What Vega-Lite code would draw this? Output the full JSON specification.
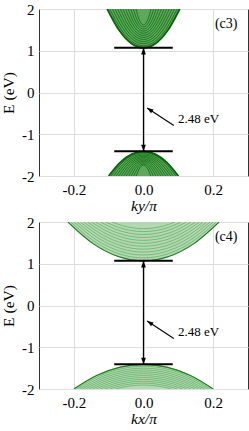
{
"$schema":"https://vega.github.io/schema/vega-lite/v6.json",
"padding":{"left":1,"top":1,"right":2,"bottom":0},
"spacing":0,
"config":{"view":{"stroke":"#333","strokeWidth":1},
"axis":{"labelFont":"Liberation Serif","labelFontSize":15,"labelColor":"#000","titleFont":"Liberation Serif","titleFontSize":15.5,"titleFontWeight":"normal","titleColor":"#000","gridColor":"#dedede","gridWidth":1,"domain":false,"ticks":false,"labelPadding":5},
"axisX":{"labelPadding":6,"titlePadding":1,"titleFontStyle":"italic"},
"axisY":{"titlePadding":5},
"text":{"font":"Liberation Serif"}},
"datasets":{
"bands":[
{"p":"c3","c":"c0","k":-0.104,"E":2},{"p":"c3","c":"c0","k":-0.0693,"E":1.483},{"p":"c3","c":"c0","k":-0.0347,"E":1.173},{"p":"c3","c":"c0","k":0,"E":1.07},{"p":"c3","c":"c0","k":0.0347,"E":1.173},{"p":"c3","c":"c0","k":0.0693,"E":1.483},{"p":"c3","c":"c0","k":0.104,"E":2},
{"p":"c3","c":"c1","k":-0.0965,"E":2},{"p":"c3","c":"c1","k":-0.0643,"E":1.511},{"p":"c3","c":"c1","k":-0.0322,"E":1.218},{"p":"c3","c":"c1","k":0,"E":1.12},{"p":"c3","c":"c1","k":0.0322,"E":1.218},{"p":"c3","c":"c1","k":0.0643,"E":1.511},{"p":"c3","c":"c1","k":0.0965,"E":2},
{"p":"c3","c":"c2","k":-0.089,"E":2},{"p":"c3","c":"c2","k":-0.0593,"E":1.539},{"p":"c3","c":"c2","k":-0.0297,"E":1.262},{"p":"c3","c":"c2","k":0,"E":1.17},{"p":"c3","c":"c2","k":0.0297,"E":1.262},{"p":"c3","c":"c2","k":0.0593,"E":1.539},{"p":"c3","c":"c2","k":0.089,"E":2},
{"p":"c3","c":"c3","k":-0.0815,"E":2},{"p":"c3","c":"c3","k":-0.0543,"E":1.567},{"p":"c3","c":"c3","k":-0.0272,"E":1.307},{"p":"c3","c":"c3","k":0,"E":1.22},{"p":"c3","c":"c3","k":0.0272,"E":1.307},{"p":"c3","c":"c3","k":0.0543,"E":1.567},{"p":"c3","c":"c3","k":0.0815,"E":2},
{"p":"c3","c":"c4","k":-0.074,"E":2},{"p":"c3","c":"c4","k":-0.0493,"E":1.594},{"p":"c3","c":"c4","k":-0.0247,"E":1.351},{"p":"c3","c":"c4","k":0,"E":1.27},{"p":"c3","c":"c4","k":0.0247,"E":1.351},{"p":"c3","c":"c4","k":0.0493,"E":1.594},{"p":"c3","c":"c4","k":0.074,"E":2},
{"p":"c3","c":"c5","k":-0.0665,"E":2},{"p":"c3","c":"c5","k":-0.0443,"E":1.622},{"p":"c3","c":"c5","k":-0.0222,"E":1.396},{"p":"c3","c":"c5","k":0,"E":1.32},{"p":"c3","c":"c5","k":0.0222,"E":1.396},{"p":"c3","c":"c5","k":0.0443,"E":1.622},{"p":"c3","c":"c5","k":0.0665,"E":2},
{"p":"c3","c":"c6","k":-0.059,"E":2},{"p":"c3","c":"c6","k":-0.0393,"E":1.65},{"p":"c3","c":"c6","k":-0.0197,"E":1.44},{"p":"c3","c":"c6","k":0,"E":1.37},{"p":"c3","c":"c6","k":0.0197,"E":1.44},{"p":"c3","c":"c6","k":0.0393,"E":1.65},{"p":"c3","c":"c6","k":0.059,"E":2},
{"p":"c3","c":"c7","k":-0.0515,"E":2},{"p":"c3","c":"c7","k":-0.0343,"E":1.678},{"p":"c3","c":"c7","k":-0.0172,"E":1.484},{"p":"c3","c":"c7","k":0,"E":1.42},{"p":"c3","c":"c7","k":0.0172,"E":1.484},{"p":"c3","c":"c7","k":0.0343,"E":1.678},{"p":"c3","c":"c7","k":0.0515,"E":2},
{"p":"c3","c":"c8","k":-0.044,"E":2},{"p":"c3","c":"c8","k":-0.0293,"E":1.706},{"p":"c3","c":"c8","k":-0.0147,"E":1.529},{"p":"c3","c":"c8","k":0,"E":1.47},{"p":"c3","c":"c8","k":0.0147,"E":1.529},{"p":"c3","c":"c8","k":0.0293,"E":1.706},{"p":"c3","c":"c8","k":0.044,"E":2},
{"p":"c3","c":"c9","k":-0.0365,"E":2},{"p":"c3","c":"c9","k":-0.0243,"E":1.733},{"p":"c3","c":"c9","k":-0.0122,"E":1.573},{"p":"c3","c":"c9","k":0,"E":1.52},{"p":"c3","c":"c9","k":0.0122,"E":1.573},{"p":"c3","c":"c9","k":0.0243,"E":1.733},{"p":"c3","c":"c9","k":0.0365,"E":2},
{"p":"c3","c":"c10","k":-0.029,"E":2},{"p":"c3","c":"c10","k":-0.0193,"E":1.761},{"p":"c3","c":"c10","k":-0.0097,"E":1.618},{"p":"c3","c":"c10","k":0,"E":1.57},{"p":"c3","c":"c10","k":0.0097,"E":1.618},{"p":"c3","c":"c10","k":0.0193,"E":1.761},{"p":"c3","c":"c10","k":0.029,"E":2},
{"p":"c3","c":"c11","k":-0.0215,"E":2},{"p":"c3","c":"c11","k":-0.0143,"E":1.789},{"p":"c3","c":"c11","k":-0.0072,"E":1.662},{"p":"c3","c":"c11","k":0,"E":1.62},{"p":"c3","c":"c11","k":0.0072,"E":1.662},{"p":"c3","c":"c11","k":0.0143,"E":1.789},{"p":"c3","c":"c11","k":0.0215,"E":2},
{"p":"c3","c":"v0","k":-0.1,"E":-2},{"p":"c3","c":"v0","k":-0.0667,"E":-1.672},{"p":"c3","c":"v0","k":-0.0333,"E":-1.476},{"p":"c3","c":"v0","k":0,"E":-1.41},{"p":"c3","c":"v0","k":0.0333,"E":-1.476},{"p":"c3","c":"v0","k":0.0667,"E":-1.672},{"p":"c3","c":"v0","k":0.1,"E":-2},
{"p":"c3","c":"v1","k":-0.0928,"E":-2},{"p":"c3","c":"v1","k":-0.0619,"E":-1.689},{"p":"c3","c":"v1","k":-0.0309,"E":-1.502},{"p":"c3","c":"v1","k":0,"E":-1.44},{"p":"c3","c":"v1","k":0.0309,"E":-1.502},{"p":"c3","c":"v1","k":0.0619,"E":-1.689},{"p":"c3","c":"v1","k":0.0928,"E":-2},
{"p":"c3","c":"v2","k":-0.0856,"E":-2},{"p":"c3","c":"v2","k":-0.0571,"E":-1.706},{"p":"c3","c":"v2","k":-0.0285,"E":-1.529},{"p":"c3","c":"v2","k":0,"E":-1.47},{"p":"c3","c":"v2","k":0.0285,"E":-1.529},{"p":"c3","c":"v2","k":0.0571,"E":-1.706},{"p":"c3","c":"v2","k":0.0856,"E":-2},
{"p":"c3","c":"v3","k":-0.0784,"E":-2},{"p":"c3","c":"v3","k":-0.0523,"E":-1.722},{"p":"c3","c":"v3","k":-0.0261,"E":-1.556},{"p":"c3","c":"v3","k":0,"E":-1.5},{"p":"c3","c":"v3","k":0.0261,"E":-1.556},{"p":"c3","c":"v3","k":0.0523,"E":-1.722},{"p":"c3","c":"v3","k":0.0784,"E":-2},
{"p":"c3","c":"v4","k":-0.0712,"E":-2},{"p":"c3","c":"v4","k":-0.0475,"E":-1.739},{"p":"c3","c":"v4","k":-0.0237,"E":-1.582},{"p":"c3","c":"v4","k":0,"E":-1.53},{"p":"c3","c":"v4","k":0.0237,"E":-1.582},{"p":"c3","c":"v4","k":0.0475,"E":-1.739},{"p":"c3","c":"v4","k":0.0712,"E":-2},
{"p":"c3","c":"v5","k":-0.064,"E":-2},{"p":"c3","c":"v5","k":-0.0427,"E":-1.756},{"p":"c3","c":"v5","k":-0.0213,"E":-1.609},{"p":"c3","c":"v5","k":0,"E":-1.56},{"p":"c3","c":"v5","k":0.0213,"E":-1.609},{"p":"c3","c":"v5","k":0.0427,"E":-1.756},{"p":"c3","c":"v5","k":0.064,"E":-2},
{"p":"c3","c":"v6","k":-0.0568,"E":-2},{"p":"c3","c":"v6","k":-0.0379,"E":-1.772},{"p":"c3","c":"v6","k":-0.0189,"E":-1.636},{"p":"c3","c":"v6","k":0,"E":-1.59},{"p":"c3","c":"v6","k":0.0189,"E":-1.636},{"p":"c3","c":"v6","k":0.0379,"E":-1.772},{"p":"c3","c":"v6","k":0.0568,"E":-2},
{"p":"c3","c":"v7","k":-0.0496,"E":-2},{"p":"c3","c":"v7","k":-0.0331,"E":-1.789},{"p":"c3","c":"v7","k":-0.0165,"E":-1.662},{"p":"c3","c":"v7","k":0,"E":-1.62},{"p":"c3","c":"v7","k":0.0165,"E":-1.662},{"p":"c3","c":"v7","k":0.0331,"E":-1.789},{"p":"c3","c":"v7","k":0.0496,"E":-2},
{"p":"c3","c":"v8","k":-0.0424,"E":-2},{"p":"c3","c":"v8","k":-0.0283,"E":-1.806},{"p":"c3","c":"v8","k":-0.0141,"E":-1.689},{"p":"c3","c":"v8","k":0,"E":-1.65},{"p":"c3","c":"v8","k":0.0141,"E":-1.689},{"p":"c3","c":"v8","k":0.0283,"E":-1.806},{"p":"c3","c":"v8","k":0.0424,"E":-2},
{"p":"c3","c":"v9","k":-0.0352,"E":-2},{"p":"c3","c":"v9","k":-0.0235,"E":-1.822},{"p":"c3","c":"v9","k":-0.0117,"E":-1.716},{"p":"c3","c":"v9","k":0,"E":-1.68},{"p":"c3","c":"v9","k":0.0117,"E":-1.716},{"p":"c3","c":"v9","k":0.0235,"E":-1.822},{"p":"c3","c":"v9","k":0.0352,"E":-2},
{"p":"c3","c":"v10","k":-0.028,"E":-2},{"p":"c3","c":"v10","k":-0.0187,"E":-1.839},{"p":"c3","c":"v10","k":-0.0093,"E":-1.742},{"p":"c3","c":"v10","k":0,"E":-1.71},{"p":"c3","c":"v10","k":0.0093,"E":-1.742},{"p":"c3","c":"v10","k":0.0187,"E":-1.839},{"p":"c3","c":"v10","k":0.028,"E":-2},
{"p":"c3","c":"v11","k":-0.0208,"E":-2},{"p":"c3","c":"v11","k":-0.0139,"E":-1.856},{"p":"c3","c":"v11","k":-0.0069,"E":-1.769},{"p":"c3","c":"v11","k":0,"E":-1.74},{"p":"c3","c":"v11","k":0.0069,"E":-1.769},{"p":"c3","c":"v11","k":0.0139,"E":-1.856},{"p":"c3","c":"v11","k":0.0208,"E":-2},
{"p":"c4","c":"c0","k":-0.217,"E":2},{"p":"c4","c":"c0","k":-0.1447,"E":1.483},{"p":"c4","c":"c0","k":-0.0723,"E":1.173},{"p":"c4","c":"c0","k":0,"E":1.07},{"p":"c4","c":"c0","k":0.0723,"E":1.173},{"p":"c4","c":"c0","k":0.1447,"E":1.483},{"p":"c4","c":"c0","k":0.217,"E":2},
{"p":"c4","c":"c1","k":-0.2087,"E":2},{"p":"c4","c":"c1","k":-0.1391,"E":1.522},{"p":"c4","c":"c1","k":-0.0696,"E":1.236},{"p":"c4","c":"c1","k":0,"E":1.14},{"p":"c4","c":"c1","k":0.0696,"E":1.236},{"p":"c4","c":"c1","k":0.1391,"E":1.522},{"p":"c4","c":"c1","k":0.2087,"E":2},
{"p":"c4","c":"c2","k":-0.2,"E":2},{"p":"c4","c":"c2","k":-0.1333,"E":1.561},{"p":"c4","c":"c2","k":-0.0667,"E":1.298},{"p":"c4","c":"c2","k":0,"E":1.21},{"p":"c4","c":"c2","k":0.0667,"E":1.298},{"p":"c4","c":"c2","k":0.1333,"E":1.561},{"p":"c4","c":"c2","k":0.2,"E":2},
{"p":"c4","c":"c3","k":-0.1909,"E":2},{"p":"c4","c":"c3","k":-0.1273,"E":1.6},{"p":"c4","c":"c3","k":-0.0636,"E":1.36},{"p":"c4","c":"c3","k":0,"E":1.28},{"p":"c4","c":"c3","k":0.0636,"E":1.36},{"p":"c4","c":"c3","k":0.1273,"E":1.6},{"p":"c4","c":"c3","k":0.1909,"E":2},
{"p":"c4","c":"c4","k":-0.1814,"E":2},{"p":"c4","c":"c4","k":-0.1209,"E":1.639},{"p":"c4","c":"c4","k":-0.0605,"E":1.422},{"p":"c4","c":"c4","k":0,"E":1.35},{"p":"c4","c":"c4","k":0.0605,"E":1.422},{"p":"c4","c":"c4","k":0.1209,"E":1.639},{"p":"c4","c":"c4","k":0.1814,"E":2},
{"p":"c4","c":"c5","k":-0.1714,"E":2},{"p":"c4","c":"c5","k":-0.1143,"E":1.678},{"p":"c4","c":"c5","k":-0.0571,"E":1.484},{"p":"c4","c":"c5","k":0,"E":1.42},{"p":"c4","c":"c5","k":0.0571,"E":1.484},{"p":"c4","c":"c5","k":0.1143,"E":1.678},{"p":"c4","c":"c5","k":0.1714,"E":2},
{"p":"c4","c":"c6","k":-0.1607,"E":2},{"p":"c4","c":"c6","k":-0.1071,"E":1.717},{"p":"c4","c":"c6","k":-0.0536,"E":1.547},{"p":"c4","c":"c6","k":0,"E":1.49},{"p":"c4","c":"c6","k":0.0536,"E":1.547},{"p":"c4","c":"c6","k":0.1071,"E":1.717},{"p":"c4","c":"c6","k":0.1607,"E":2},
{"p":"c4","c":"c7","k":-0.1493,"E":2},{"p":"c4","c":"c7","k":-0.0995,"E":1.756},{"p":"c4","c":"c7","k":-0.0498,"E":1.609},{"p":"c4","c":"c7","k":0,"E":1.56},{"p":"c4","c":"c7","k":0.0498,"E":1.609},{"p":"c4","c":"c7","k":0.0995,"E":1.756},{"p":"c4","c":"c7","k":0.1493,"E":2},
{"p":"c4","c":"c8","k":-0.1369,"E":2},{"p":"c4","c":"c8","k":-0.0913,"E":1.794},{"p":"c4","c":"c8","k":-0.0456,"E":1.671},{"p":"c4","c":"c8","k":0,"E":1.63},{"p":"c4","c":"c8","k":0.0456,"E":1.671},{"p":"c4","c":"c8","k":0.0913,"E":1.794},{"p":"c4","c":"c8","k":0.1369,"E":2},
{"p":"c4","c":"c9","k":-0.1232,"E":2},{"p":"c4","c":"c9","k":-0.0821,"E":1.833},{"p":"c4","c":"c9","k":-0.0411,"E":1.733},{"p":"c4","c":"c9","k":0,"E":1.7},{"p":"c4","c":"c9","k":0.0411,"E":1.733},{"p":"c4","c":"c9","k":0.0821,"E":1.833},{"p":"c4","c":"c9","k":0.1232,"E":2},
{"p":"c4","c":"c10","k":-0.1079,"E":2},{"p":"c4","c":"c10","k":-0.0719,"E":1.872},{"p":"c4","c":"c10","k":-0.036,"E":1.796},{"p":"c4","c":"c10","k":0,"E":1.77},{"p":"c4","c":"c10","k":0.036,"E":1.796},{"p":"c4","c":"c10","k":0.0719,"E":1.872},{"p":"c4","c":"c10","k":0.1079,"E":2},
{"p":"c4","c":"c11","k":-0.09,"E":2},{"p":"c4","c":"c11","k":-0.06,"E":1.911},{"p":"c4","c":"c11","k":-0.03,"E":1.858},{"p":"c4","c":"c11","k":0,"E":1.84},{"p":"c4","c":"c11","k":0.03,"E":1.858},{"p":"c4","c":"c11","k":0.06,"E":1.911},{"p":"c4","c":"c11","k":0.09,"E":2},
{"p":"c4","c":"v0","k":-0.2,"E":-2},{"p":"c4","c":"v0","k":-0.1333,"E":-1.672},{"p":"c4","c":"v0","k":-0.0667,"E":-1.476},{"p":"c4","c":"v0","k":0,"E":-1.41},{"p":"c4","c":"v0","k":0.0667,"E":-1.476},{"p":"c4","c":"v0","k":0.1333,"E":-1.672},{"p":"c4","c":"v0","k":0.2,"E":-2},
{"p":"c4","c":"v1","k":-0.1922,"E":-2},{"p":"c4","c":"v1","k":-0.1281,"E":-1.697},{"p":"c4","c":"v1","k":-0.0641,"E":-1.516},{"p":"c4","c":"v1","k":0,"E":-1.455},{"p":"c4","c":"v1","k":0.0641,"E":-1.516},{"p":"c4","c":"v1","k":0.1281,"E":-1.697},{"p":"c4","c":"v1","k":0.1922,"E":-2},
{"p":"c4","c":"v2","k":-0.1841,"E":-2},{"p":"c4","c":"v2","k":-0.1227,"E":-1.722},{"p":"c4","c":"v2","k":-0.0614,"E":-1.556},{"p":"c4","c":"v2","k":0,"E":-1.5},{"p":"c4","c":"v2","k":0.0614,"E":-1.556},{"p":"c4","c":"v2","k":0.1227,"E":-1.722},{"p":"c4","c":"v2","k":0.1841,"E":-2},
{"p":"c4","c":"v3","k":-0.1756,"E":-2},{"p":"c4","c":"v3","k":-0.1171,"E":-1.747},{"p":"c4","c":"v3","k":-0.0585,"E":-1.596},{"p":"c4","c":"v3","k":0,"E":-1.545},{"p":"c4","c":"v3","k":0.0585,"E":-1.596},{"p":"c4","c":"v3","k":0.1171,"E":-1.747},{"p":"c4","c":"v3","k":0.1756,"E":-2},
{"p":"c4","c":"v4","k":-0.1667,"E":-2},{"p":"c4","c":"v4","k":-0.1111,"E":-1.772},{"p":"c4","c":"v4","k":-0.0556,"E":-1.636},{"p":"c4","c":"v4","k":0,"E":-1.59},{"p":"c4","c":"v4","k":0.0556,"E":-1.636},{"p":"c4","c":"v4","k":0.1111,"E":-1.772},{"p":"c4","c":"v4","k":0.1667,"E":-2},
{"p":"c4","c":"v5","k":-0.1573,"E":-2},{"p":"c4","c":"v5","k":-0.1049,"E":-1.797},{"p":"c4","c":"v5","k":-0.0524,"E":-1.676},{"p":"c4","c":"v5","k":0,"E":-1.635},{"p":"c4","c":"v5","k":0.0524,"E":-1.676},{"p":"c4","c":"v5","k":0.1049,"E":-1.797},{"p":"c4","c":"v5","k":0.1573,"E":-2},
{"p":"c4","c":"v6","k":-0.1473,"E":-2},{"p":"c4","c":"v6","k":-0.0982,"E":-1.822},{"p":"c4","c":"v6","k":-0.0491,"E":-1.716},{"p":"c4","c":"v6","k":0,"E":-1.68},{"p":"c4","c":"v6","k":0.0491,"E":-1.716},{"p":"c4","c":"v6","k":0.0982,"E":-1.822},{"p":"c4","c":"v6","k":0.1473,"E":-2},
{"p":"c4","c":"v7","k":-0.1365,"E":-2},{"p":"c4","c":"v7","k":-0.091,"E":-1.847},{"p":"c4","c":"v7","k":-0.0455,"E":-1.756},{"p":"c4","c":"v7","k":0,"E":-1.725},{"p":"c4","c":"v7","k":0.0455,"E":-1.756},{"p":"c4","c":"v7","k":0.091,"E":-1.847},{"p":"c4","c":"v7","k":0.1365,"E":-2},
{"p":"c4","c":"v8","k":-0.1249,"E":-2},{"p":"c4","c":"v8","k":-0.0833,"E":-1.872},{"p":"c4","c":"v8","k":-0.0416,"E":-1.796},{"p":"c4","c":"v8","k":0,"E":-1.77},{"p":"c4","c":"v8","k":0.0416,"E":-1.796},{"p":"c4","c":"v8","k":0.0833,"E":-1.872},{"p":"c4","c":"v8","k":0.1249,"E":-2},
{"p":"c4","c":"v9","k":-0.112,"E":-2},{"p":"c4","c":"v9","k":-0.0747,"E":-1.897},{"p":"c4","c":"v9","k":-0.0373,"E":-1.836},{"p":"c4","c":"v9","k":0,"E":-1.815},{"p":"c4","c":"v9","k":0.0373,"E":-1.836},{"p":"c4","c":"v9","k":0.0747,"E":-1.897},{"p":"c4","c":"v9","k":0.112,"E":-2},
{"p":"c4","c":"v10","k":-0.0974,"E":-2},{"p":"c4","c":"v10","k":-0.0649,"E":-1.922},{"p":"c4","c":"v10","k":-0.0325,"E":-1.876},{"p":"c4","c":"v10","k":0,"E":-1.86},{"p":"c4","c":"v10","k":0.0325,"E":-1.876},{"p":"c4","c":"v10","k":0.0649,"E":-1.922},{"p":"c4","c":"v10","k":0.0974,"E":-2},
{"p":"c4","c":"v11","k":-0.0803,"E":-2},{"p":"c4","c":"v11","k":-0.0535,"E":-1.947},{"p":"c4","c":"v11","k":-0.0268,"E":-1.916},{"p":"c4","c":"v11","k":0,"E":-1.905},{"p":"c4","c":"v11","k":0.0268,"E":-1.916},{"p":"c4","c":"v11","k":0.0535,"E":-1.947},{"p":"c4","c":"v11","k":0.0803,"E":-2}
],
"edges":[{"k":-0.084,"k2":0.084,"E":1.07},{"k":-0.084,"k2":0.084,"E":-1.41}],
"gap":[{"k":0,"E":-1.41,"E2":1.07}],
"up":[{"k":0,"E":1.07}],
"down":[{"k":0,"E":-1.41}],
"pointer":[{"k":0.087,"E":-0.79,"k2":0.0105,"E2":-0.37}],
"tip":[{"k":0.0105,"E":-0.37}],
"note":[{"k":0.099,"E":-0.645,"t":"2.48 eV"}]
},
"vconcat":[
{"width":209,"height":167,
"layer":[
{"data":{"name":"bands"},"transform":[{"filter":"datum.p=='c3' && datum.c=='c0'"}],"mark":{"type":"area","interpolate":"monotone","color":"#5fa65f","clip":true},
"encoding":{"x":{"field":"k","type":"quantitative","scale":{"domain":[-0.3,0.3],"nice":false},"axis":{"values":[-0.2,0,0.2],"labelExpr":"replace(datum.label,'−','-')"},"title":"ky/π"},
"y":{"field":"E","type":"quantitative","scale":{"domain":[-2,2],"nice":false},"axis":{"values":[-2,-1,0,1,2],"labelExpr":"replace(datum.label,'−','-')"},"title":"E (eV)"},"y2":{"datum":2}}},
{"data":{"name":"bands"},"transform":[{"filter":"datum.p=='c3' && datum.c=='v0'"}],"mark":{"type":"area","interpolate":"monotone","color":"#5fa65f","clip":true},
"encoding":{"x":{"field":"k","type":"quantitative"},"y":{"field":"E","type":"quantitative"},"y2":{"datum":-2}}},
{"data":{"name":"bands"},"transform":[{"filter":"datum.p=='c3'"}],"mark":{"type":"line","interpolate":"monotone","color":"#0a6e0a","strokeWidth":0.8,"clip":true},
"encoding":{"x":{"field":"k","type":"quantitative"},"y":{"field":"E","type":"quantitative"},"detail":{"field":"c"}}},
{"data":{"name":"bands"},"transform":[{"filter":"datum.p=='c3' && (datum.c=='c0' || datum.c=='v0')"}],"mark":{"type":"line","interpolate":"monotone","color":"#0a640a","strokeWidth":1.8,"clip":true},
"encoding":{"x":{"field":"k","type":"quantitative"},"y":{"field":"E","type":"quantitative"},"detail":{"field":"c"}}},
{"mark":{"type":"rule","color":"#000","strokeWidth":2,"strokeDash":[8,5]},"encoding":{"y":{"datum":0}}},
{"data":{"name":"edges"},"mark":{"type":"rule","color":"#000","strokeWidth":2},"encoding":{"x":{"field":"k","type":"quantitative"},"x2":{"field":"k2"},"y":{"field":"E","type":"quantitative"}}},
{"data":{"name":"gap"},"mark":{"type":"rule","color":"#000","strokeWidth":1.3},"encoding":{"x":{"field":"k","type":"quantitative"},"y":{"field":"E","type":"quantitative"},"y2":{"field":"E2"}}},
{"data":{"name":"up"},"mark":{"type":"point","shape":"M0,0L-0.5,1.4L0.5,1.4Z","filled":true,"color":"#000","size":90,"opacity":1},"encoding":{"x":{"field":"k","type":"quantitative"},"y":{"field":"E","type":"quantitative"}}},
{"data":{"name":"down"},"mark":{"type":"point","shape":"M0,0L-0.5,-1.4L0.5,-1.4Z","filled":true,"color":"#000","size":90,"opacity":1},"encoding":{"x":{"field":"k","type":"quantitative"},"y":{"field":"E","type":"quantitative"}}},
{"data":{"name":"pointer"},"mark":{"type":"rule","color":"#000","strokeWidth":1.1},"encoding":{"x":{"field":"k","type":"quantitative"},"y":{"field":"E","type":"quantitative"},"x2":{"field":"k2"},"y2":{"field":"E2"}}},
{"data":{"name":"tip"},"mark":{"type":"point","shape":"M0,0L-0.5,1.4L0.5,1.4Z","filled":true,"color":"#000","size":80,"opacity":1,"angle":304},"encoding":{"x":{"field":"k","type":"quantitative"},"y":{"field":"E","type":"quantitative"}}},
{"data":{"name":"note"},"mark":{"type":"text","align":"left","baseline":"middle","fontSize":13,"color":"#000"},"encoding":{"x":{"field":"k","type":"quantitative"},"y":{"field":"E","type":"quantitative"},"text":{"field":"t"}}},
{"data":{"values":[{"k":0.205,"E":1.65,"t":"(c3)"}]},"mark":{"type":"text","align":"left","baseline":"middle","fontSize":14,"color":"#000"},"encoding":{"x":{"field":"k","type":"quantitative"},"y":{"field":"E","type":"quantitative"},"text":{"field":"t"}}}
]},
{"width":209,"height":167,
"layer":[
{"data":{"name":"bands"},"transform":[{"filter":"datum.p=='c4' && datum.c=='c0'"}],"mark":{"type":"area","interpolate":"monotone","color":"#b3d8b3","clip":true},
"encoding":{"x":{"field":"k","type":"quantitative","scale":{"domain":[-0.3,0.3],"nice":false},"axis":{"values":[-0.2,0,0.2],"labelExpr":"replace(datum.label,'−','-')"},"title":"kx/π"},
"y":{"field":"E","type":"quantitative","scale":{"domain":[-2,2],"nice":false},"axis":{"values":[-2,-1,0,1,2],"labelExpr":"replace(datum.label,'−','-')"},"title":"E (eV)"},"y2":{"datum":2}}},
{"data":{"name":"bands"},"transform":[{"filter":"datum.p=='c4' && datum.c=='v0'"}],"mark":{"type":"area","interpolate":"monotone","color":"#b3d8b3","clip":true},
"encoding":{"x":{"field":"k","type":"quantitative"},"y":{"field":"E","type":"quantitative"},"y2":{"datum":-2}}},
{"data":{"name":"bands"},"transform":[{"filter":"datum.p=='c4'"}],"mark":{"type":"line","interpolate":"monotone","color":"#3a9a3a","strokeWidth":0.5,"clip":true},
"encoding":{"x":{"field":"k","type":"quantitative"},"y":{"field":"E","type":"quantitative"},"detail":{"field":"c"}}},
{"data":{"name":"bands"},"transform":[{"filter":"datum.p=='c4' && (datum.c=='c0' || datum.c=='v0')"}],"mark":{"type":"line","interpolate":"monotone","color":"#1f7f1f","strokeWidth":1.1,"clip":true},
"encoding":{"x":{"field":"k","type":"quantitative"},"y":{"field":"E","type":"quantitative"},"detail":{"field":"c"}}},
{"mark":{"type":"rule","color":"#000","strokeWidth":2,"strokeDash":[8,5]},"encoding":{"y":{"datum":0}}},
{"data":{"name":"edges"},"mark":{"type":"rule","color":"#000","strokeWidth":2},"encoding":{"x":{"field":"k","type":"quantitative"},"x2":{"field":"k2"},"y":{"field":"E","type":"quantitative"}}},
{"data":{"name":"gap"},"mark":{"type":"rule","color":"#000","strokeWidth":1.3},"encoding":{"x":{"field":"k","type":"quantitative"},"y":{"field":"E","type":"quantitative"},"y2":{"field":"E2"}}},
{"data":{"name":"up"},"mark":{"type":"point","shape":"M0,0L-0.5,1.4L0.5,1.4Z","filled":true,"color":"#000","size":90,"opacity":1},"encoding":{"x":{"field":"k","type":"quantitative"},"y":{"field":"E","type":"quantitative"}}},
{"data":{"name":"down"},"mark":{"type":"point","shape":"M0,0L-0.5,-1.4L0.5,-1.4Z","filled":true,"color":"#000","size":90,"opacity":1},"encoding":{"x":{"field":"k","type":"quantitative"},"y":{"field":"E","type":"quantitative"}}},
{"data":{"name":"pointer"},"mark":{"type":"rule","color":"#000","strokeWidth":1.1},"encoding":{"x":{"field":"k","type":"quantitative"},"y":{"field":"E","type":"quantitative"},"x2":{"field":"k2"},"y2":{"field":"E2"}}},
{"data":{"name":"tip"},"mark":{"type":"point","shape":"M0,0L-0.5,1.4L0.5,1.4Z","filled":true,"color":"#000","size":80,"opacity":1,"angle":304},"encoding":{"x":{"field":"k","type":"quantitative"},"y":{"field":"E","type":"quantitative"}}},
{"data":{"name":"note"},"mark":{"type":"text","align":"left","baseline":"middle","fontSize":13,"color":"#000"},"encoding":{"x":{"field":"k","type":"quantitative"},"y":{"field":"E","type":"quantitative"},"text":{"field":"t"}}},
{"data":{"values":[{"k":0.205,"E":1.65,"t":"(c4)"}]},"mark":{"type":"text","align":"left","baseline":"middle","fontSize":14,"color":"#000"},"encoding":{"x":{"field":"k","type":"quantitative"},"y":{"field":"E","type":"quantitative"},"text":{"field":"t"}}}
]}
]
}
